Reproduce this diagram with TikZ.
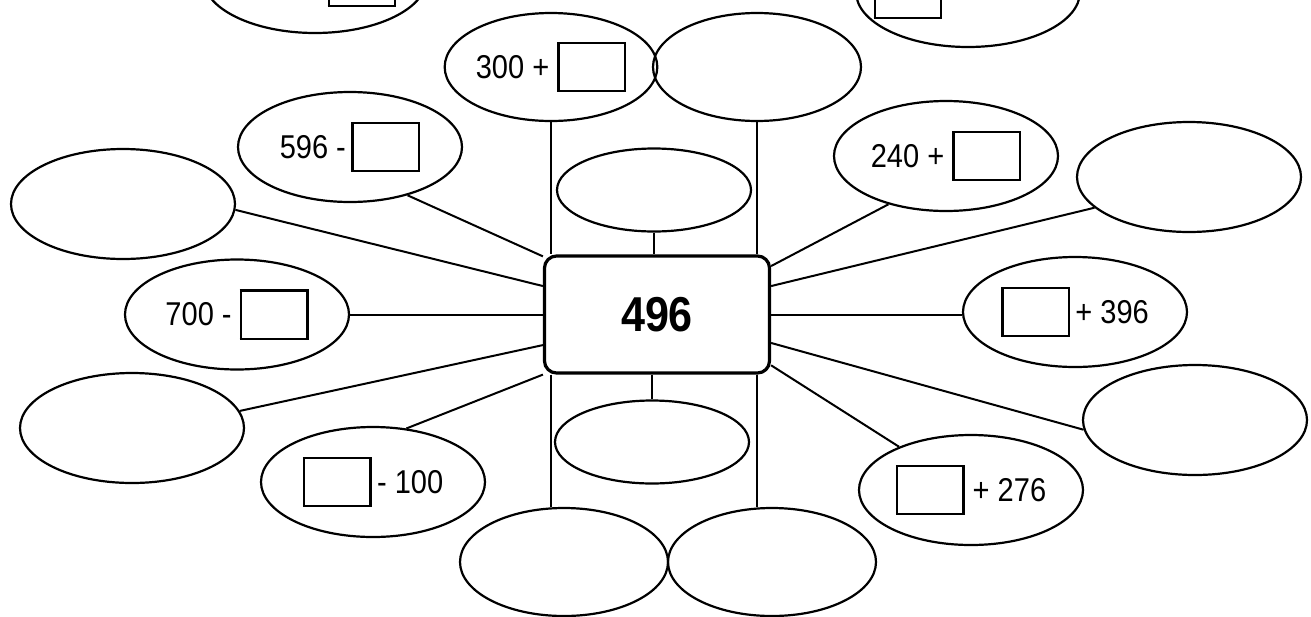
\documentclass[tikz,border=0pt]{standalone}
\usepackage{fontspec}
\setmainfont{Liberation Sans}[FakeStretch=0.88]
\usetikzlibrary{shapes.geometric}
\newcommand\slotbox{{\setlength\fboxsep{0pt}\setlength\fboxrule{1.2pt}\raisebox{-5.8pt}{\fbox{\rule{0pt}{23pt}\hspace{32pt}}}}}

\begin{document}
\begin{tikzpicture}[
        x=0.5pt, y=-0.5pt,
        oval/.style={ellipse, draw, line width=1.1pt, minimum width=112pt, minimum height=55pt, inner sep=0pt, font=\fontsize{16.5}{18}\selectfont},
        small oval/.style={oval, minimum width=97pt, minimum height=41.5pt},
        pair oval/.style={oval, minimum width=104pt, minimum height=54pt},
        hub/.style={draw, line width=1.6pt, rounded corners=6pt, minimum width=112.5pt, minimum height=58.5pt, font=\fontsize{24.5}{26}\selectfont\bfseries},
        link/.style={line width=1pt}
    ]

    \clip (0,0) rectangle (1311,616);

    % centre
    \node[hub] (hub) at (657,314.5) {496};

    % top row, cut by the page edge
    \node[oval] (eTL) at (315,-22) {};
    \node[inner sep=0pt] (sTL) at (362,-18) {\slotbox};
    \node[oval] (eTR) at (968,-8) {};
    \node[inner sep=0pt] (sTR) at (908,-6) {\slotbox};

    % columns above and below
    \node[pair oval] (e300) at (551,67) {300 + \slotbox};
    \node[pair oval] (eTop) at (757,67) {};
    \node[small oval] (eMidTop) at (654,190) {};
    \node[small oval] (eMidBot) at (652,442) {};
    \node[pair oval] (eBotL) at (564,562) {};
    \node[pair oval] (eBotR) at (772,562) {};

    % left fan
    \node[oval] (e596) at (350,147) {596 -\,\slotbox};
    \node[oval] (eL1) at (123,204) {};
    \node[oval] (e700) at (237,314.5) {700 - \slotbox};
    \node[oval] (eL2) at (132,428) {};
    \node[oval] (e100) at (373,482) {\slotbox\,- 100};

    % right fan
    \node[oval] (e240) at (946,156) {240 + \slotbox};
    \node[oval] (eR1) at (1189,177) {};
    \node[oval] (e396) at (1075,312) {\slotbox\,+ 396};
    \node[oval] (eR2) at (1195,420) {};
    \node[oval] (e276) at (971,490) {\slotbox\ + 276};

    % vertical links
    \draw[link] (e300.south) -- (e300.south |- hub.north);
    \draw[link] (eTop.south) -- (eTop.south |- hub.north);
    \draw[link] (eMidTop.south) -- (eMidTop.south |- hub.north);
    \draw[link] (e300.south |- hub.south) -- (e300.south |- eBotL.north);
    \draw[link] (eTop.south |- hub.south) -- (eTop.south |- eBotR.north);
    \draw[link] (eMidBot.north |- hub.south) -- (eMidBot.north);

    % spokes
    \draw[link] (hub.153) -- (e596.-40);
    \draw[link] (hub.166) -- (eL1.-3);
    \draw[link] (hub) -- (e700);
    \draw[link] (hub.195) -- (eL2.9);
    \draw[link] (hub.south west) -- (e100.58);
    \draw[link] (hub.23) -- (e240.220);
    \draw[link] (hub.14) -- (eR1.198);
    \draw[link] (hub.east) -- (hub.east -| e396.west);
    \draw[link] (hub.-14) -- (eR2.185);
    \draw[link] (hub.-24) -- (e276.149);

\end{tikzpicture}
\end{document}
